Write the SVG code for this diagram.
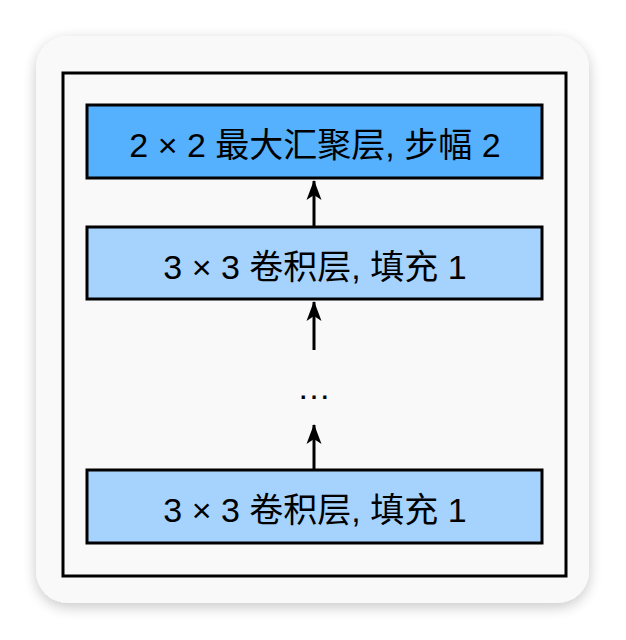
<svg xmlns="http://www.w3.org/2000/svg" width="626" height="640" viewBox="0 0 626 640">
<style>
.box{stroke:#000;stroke-width:3}
.t{font-family:"Liberation Sans","Noto Sans CJK SC",sans-serif;font-size:34px;fill:#000;text-anchor:middle}
.c{stroke:#000;stroke-width:3;fill:none;marker-end:url(#ah)}
</style>
<defs>
<filter id="sh" x="-10%" y="-10%" width="120%" height="120%">
<feGaussianBlur in="SourceAlpha" stdDeviation="7"/>
<feOffset dx="0" dy="4"/>
<feComponentTransfer><feFuncA type="linear" slope="0.22"/></feComponentTransfer>
<feMerge><feMergeNode/><feMergeNode in="SourceGraphic"/></feMerge>
</filter>
<marker id="ah" markerWidth="20" markerHeight="16" refX="19" refY="8" orient="auto" markerUnits="userSpaceOnUse" viewBox="0 0 20 16">
<path d="M0,0.5 L20,8 L0,15.5 L5,8 Z" fill="#000"/>
</marker>
</defs>
<rect x="36" y="36" width="553" height="567" rx="32" fill="#f9f9f9" filter="url(#sh)"/>
<rect x="63" y="73" width="503" height="503" fill="none" stroke="#000" stroke-width="3"/>
<g id="connectors">
<line class="c" x1="314" y1="226" x2="314" y2="181"/>
<line class="c" x1="314" y1="350" x2="314" y2="302"/>
<line class="c" x1="314" y1="470" x2="314" y2="425"/>
</g>
<g id="pool">
<rect class="box" x="87" y="105" width="455" height="73" fill="#55b0fe"/>
<text class="t" x="315" y="157">2 × 2 最大汇聚层, 步幅 2</text>
</g>
<g id="conv1">
<rect class="box" x="87" y="227" width="455" height="72" fill="#a6d3fe"/>
<text class="t" x="315" y="279">3 × 3 卷积层, 填充 1</text>
</g>
<g id="dots">
<text class="t" x="314" y="399">…</text>
</g>
<g id="conv2">
<rect class="box" x="87" y="470" width="455" height="73" fill="#a6d3fe"/>
<text class="t" x="315" y="522">3 × 3 卷积层, 填充 1</text>
</g>
</svg>
